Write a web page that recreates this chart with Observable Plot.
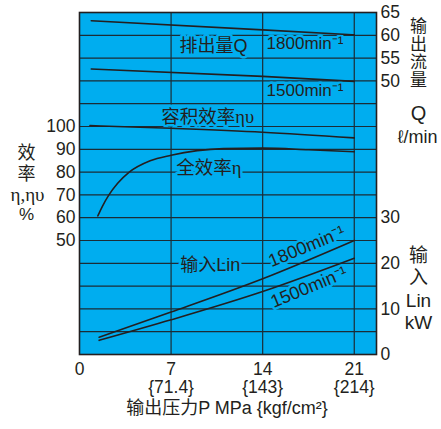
<!DOCTYPE html>
<html><head><meta charset="utf-8">
<script src="https://cdn.jsdelivr.net/npm/d3@7"></script>
<script src="https://cdn.jsdelivr.net/npm/@observablehq/plot@0.6"></script>
<style>body{margin:0;background:#fff}</style>
</head><body><div id="chart"></div>
<script>
// ---- data ----
const pressureTicks = [0, 7, 14, 21];          // MPa
const kgfTicks = ["", "{71.4}", "{143}", "{214}"];
const effTicks = [50, 60, 70, 80, 90, 100];    // %
const flowTicks = [50, 55, 60, 65];            // l/min
const powerTicks = [0, 10, 20, 30];            // kW

const flowP = [0.9, 14, 21];
const flow1800 = [63.2, 61.2, 60.1];
const flow1500 = [52.6, 51.0, 49.9];

const volEffP = [0.8, 7, 14, 21];
const volEff = [100.4, 99.2, 97.5, 95.0];

const totEffP = [1.4, 1.75, 2.25, 2.9, 3.8, 5.4, 7, 9, 11, 14, 17.5, 21];
const totEff = [60.8, 65, 70, 75, 80, 85, 87.4, 89.4, 90.3, 90.5, 89.8, 88.9];

const powerP = [1.5, 7, 14, 21];
const power1800 = [3.8, 9.3, 16.6, 25.0];
const power1500 = [3.1, 7.6, 13.8, 21.1];

// ---- shared vertical scale: efficiency %, flow and power mapped onto it ----
const flowY = f => (f + 10) * 2;
const powerY = p => p * 2;

const BLUE = "#00adef";
const INK = "#231f20";
const GRID = "#1b2c36";
const sans = "'Liberation Sans', Arial, 'Noto Sans CJK SC', sans-serif";
const serifMix = "'Liberation Serif', 'Noto Sans CJK SC', serif";

const series = (xs, ys, f) => xs.map((x, i) => ({x, y: f(ys[i])}));
const curve = (data) => Plot.line(data, {x: "x", y: "y", stroke: INK, strokeWidth: 1.6, curve: "monotone-x"});

const halo = {stroke: BLUE, strokeWidth: 5, fill: INK, fontSize: 17};
const label = (x, y, text, opts = {}) =>
  Plot.text([{x, y, text}], {x: "x", y: "y", text: "text", fontFamily: sans, ...halo, ...opts});
const note = (text, dx, dy, opts = {}) =>
  Plot.text([text], {frameAnchor: "top-left", dx, dy, fill: INK, fontSize: 17, fontFamily: sans,
    textAnchor: "middle", lineAnchor: "middle", ...opts});

const chart = Plot.plot({
  width: 441, height: 429,
  marginLeft: 79, marginRight: 65, marginTop: 12, marginBottom: 75,
  x: {domain: [0, 22.7]},
  y: {domain: [0, 150]},
  style: {fontFamily: sans, fontSize: "17px", color: INK, background: "white", overflow: "visible"},
  marks: [
    Plot.frame({fill: BLUE}),
    Plot.gridY({interval: 10, stroke: GRID, strokeOpacity: 1, strokeWidth: 1.2}),
    Plot.gridX(pressureTicks.slice(1), {stroke: GRID, strokeOpacity: 1, strokeWidth: 1.2}),

    // in-plot labels (halo masks the grid like the original)
    label(10.25, 135.1, "排出量Q", {fontSize: 18}),
    label(14.3, 136.3, "1800min⁻¹", {textAnchor: "start"}),
    label(14.3, 115.8, "1500min⁻¹", {textAnchor: "start"}),
    label(6.25, 104.2, "容积效率ηυ", {textAnchor: "start", fontFamily: serifMix, fontSize: 18.5}),
    label(7.4, 81.8, "全效率η", {textAnchor: "start", fontFamily: serifMix, fontSize: 18.5}),
    label(7.7, 39.0, "输入Lin", {textAnchor: "start", fontSize: 18}),
    label(17.37, 47.4, "1800min⁻¹", {rotate: -22.5, fontSize: 18}),
    label(17.54, 29.5, "1500min⁻¹", {rotate: -22.5, fontSize: 18}),

    // curves
    curve(series(flowP, flow1800, flowY)),
    curve(series(flowP, flow1500, flowY)),
    curve(series(volEffP, volEff, e => e)),
    curve(series(totEffP, totEff, e => e)),
    curve(series(powerP, power1800, powerY)),
    curve(series(powerP, power1500, powerY)),

    Plot.frame({stroke: INK, strokeWidth: 1.6}),

    // axes
    Plot.axisY(effTicks, {anchor: "left", tickSize: 0, tickPadding: 4, label: null, fontSize: 17.5}),
    Plot.axisY(flowTicks.map(flowY), {anchor: "right", tickSize: 0, tickPadding: 4, label: null, fontSize: 17.5,
      tickFormat: d => String(d / 2 - 10)}),
    Plot.axisY(powerTicks.map(powerY), {anchor: "right", tickSize: 0, tickPadding: 4, label: null, fontSize: 17.5,
      tickFormat: d => String(d / 2)}),
    Plot.axisX(pressureTicks, {tickSize: 0, tickPadding: 7, label: null, fontSize: 17.5, lineHeight: 1.06,
      tickFormat: d => { const i = pressureTicks.indexOf(d); return i === 0 ? "0" : `${d}\n${kgfTicks[i]}`; }}),

    // axis titles (offsets from the frame's top-left corner)
    note("效\n率", -53, 150, {lineHeight: 1.18, fontSize: 18}),
    note("η,ηυ", -52, 182, {fontFamily: serifMix, fontSize: 19}),
    note("%", -53, 202),
    note("输\n出\n流\n量", 339, 40.5, {lineHeight: 1.06, fontSize: 17}),
    note("Q", 339, 101, {fontSize: 20}),
    note("ℓ/min", 338, 125, {fontSize: 18}),
    note("输\n入\nLin\nkW", 339, 276, {lineHeight: 1.18, fontSize: 19}),
    note("输出压力P MPa {kgf/cm²}", 147.5, 396, {fontSize: 18})
  ]
});
document.getElementById("chart").append(chart);
</script>
</body></html>
